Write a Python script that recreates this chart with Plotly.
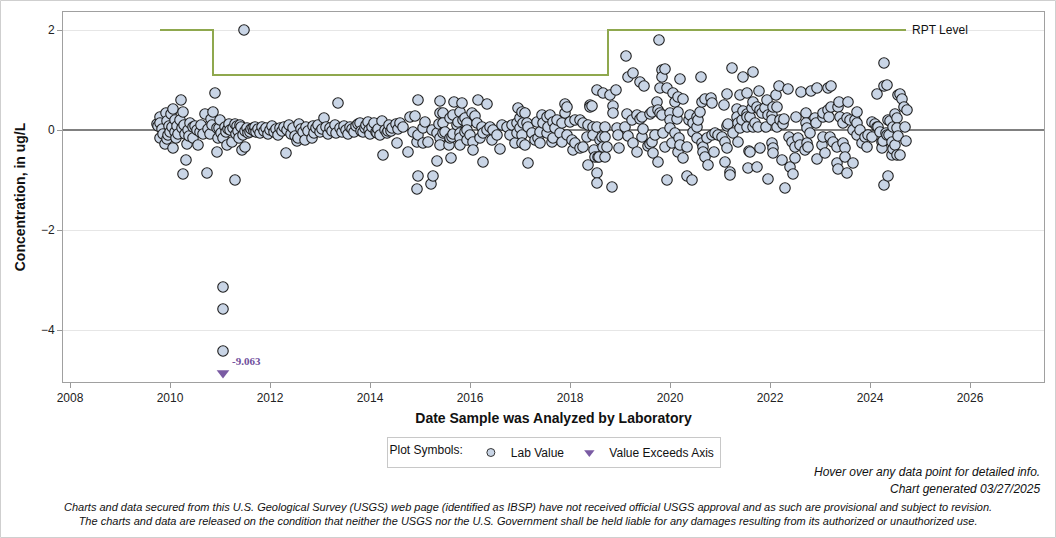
import plotly.graph_objects as go

# ---------------- data (decimal year, concentration ug/L) ----------------
lab_2010 = [
    (2009.74, 0.12), (2009.76, 0.08), (2009.80, 0.26), (2009.80, 0.14), (2009.80, -0.16), (2009.84, 0.02),
    (2009.86, -0.08), (2009.90, -0.28), (2009.92, 0.34), (2009.94, 0.18), (2009.94, -0.18), (2009.96, -0.10),
    (2009.98, 0.08), (2010.00, -0.04), (2010.02, 0.32), (2010.04, 0.06), (2010.06, 0.42), (2010.06, -0.36),
    (2010.10, 0.20), (2010.10, -0.04), (2010.12, -0.16), (2010.14, 0.08), (2010.16, -0.08), (2010.20, 0.20),
    (2010.22, 0.60), (2010.24, 0.04), (2010.26, 0.36), (2010.26, -0.88), (2010.28, 0.10), (2010.30, -0.08),
    (2010.32, -0.60), (2010.34, -0.28), (2010.36, 0.00), (2010.38, -0.12), (2010.40, 0.14), (2010.46, 0.06),
    (2010.46, -0.16), (2010.50, 0.08), (2010.54, 0.00), (2010.56, -0.30), (2010.60, -0.04), (2010.62, 0.10),
    (2010.66, -0.08), (2010.70, 0.32), (2010.74, -0.86), (2010.76, 0.02), (2010.80, -0.08), (2010.82, 0.22),
    (2010.84, 0.10), (2010.86, 0.36), (2010.90, 0.74), (2010.94, 0.04), (2010.94, -0.44), (2010.96, -0.16),
    (2010.98, 0.04), (2011.00, 0.20), (2011.02, -0.06), (2011.06, -0.16), (2011.06, -3.14), (2011.06, -3.58),
    (2011.06, -4.42), (2011.10, 0.06), (2011.12, -0.04), (2011.14, -0.30), (2011.16, 0.02), (2011.18, 0.12),
    (2011.20, 0.00), (2011.24, -0.24), (2011.26, 0.04), (2011.30, 0.12), (2011.30, -1.00), (2011.32, -0.08),
    (2011.34, 0.08), (2011.36, -0.02), (2011.38, -0.16), (2011.40, 0.10), (2011.42, 0.06), (2011.44, -0.40),
    (2011.46, -0.10), (2011.48, 2.00), (2011.50, -0.02), (2011.50, -0.34), (2011.54, 0.04), (2011.56, -0.06),
    (2011.60, -0.04), (2011.62, 0.02), (2011.66, 0.04), (2011.68, -0.02), (2011.70, 0.06), (2011.72, -0.04),
]

lab_2013 = [
    (2011.76, 0.02), (2011.80, -0.06), (2011.84, 0.06), (2011.88, -0.02), (2011.92, 0.04), (2011.96, -0.08),
    (2012.00, 0.00), (2012.04, 0.08), (2012.08, -0.04), (2012.12, 0.02), (2012.16, -0.10), (2012.20, 0.04),
    (2012.24, -0.02), (2012.28, 0.06), (2012.32, -0.46), (2012.34, 0.00), (2012.38, 0.10), (2012.42, -0.08),
    (2012.46, 0.04), (2012.50, -0.12), (2012.54, -0.22), (2012.56, -0.16), (2012.58, 0.12), (2012.62, 0.02),
    (2012.66, -0.04), (2012.70, -0.20), (2012.72, 0.06), (2012.76, -0.02), (2012.84, -0.16), (2012.86, 0.08),
    (2012.88, -0.06), (2012.92, 0.04), (2012.96, 0.10), (2013.00, -0.04), (2013.04, 0.02), (2013.08, 0.24),
    (2013.12, 0.06), (2013.16, -0.08), (2013.20, 0.04), (2013.24, -0.02), (2013.30, 0.10), (2013.32, -0.06),
    (2013.36, 0.54), (2013.40, 0.04), (2013.44, -0.04), (2013.48, 0.08), (2013.52, 0.00), (2013.56, -0.08),
    (2013.60, 0.06), (2013.64, 0.02), (2013.68, -0.04), (2013.72, 0.08), (2013.76, 0.12), (2013.80, 0.14),
    (2013.82, -0.02), (2013.86, -0.04), (2013.90, 0.04), (2013.92, 0.10), (2013.96, 0.16), (2013.98, 0.00),
    (2014.00, -0.08), (2014.04, 0.06), (2014.08, 0.14), (2014.12, -0.04), (2014.14, -0.06), (2014.16, 0.02),
    (2014.20, -0.10), (2014.24, 0.18), (2014.26, -0.50), (2014.30, 0.00), (2014.34, -0.06), (2014.36, -0.02),
    (2014.38, 0.10), (2014.42, -0.02), (2014.44, 0.04), (2014.52, 0.12), (2014.54, -0.26), (2014.56, 0.02),
    (2014.60, 0.14), (2014.66, 0.06),
]

lab_2016 = [
    (2014.76, -0.44), (2014.80, 0.26), (2014.86, -0.04), (2014.90, 0.28), (2014.94, -0.24), (2014.96, 0.60),
    (2014.96, -0.10), (2014.94, -1.18), (2014.96, -0.92), (2015.06, 0.04), (2015.06, -0.26), (2015.10, 0.16),
    (2015.16, -0.24), (2015.22, -1.08), (2015.24, 0.00), (2015.26, -0.92), (2015.34, -0.06), (2015.34, -0.62),
    (2015.38, 0.12), (2015.40, 0.58), (2015.40, 0.34), (2015.40, -0.16), (2015.40, -0.30), (2015.46, 0.34),
    (2015.46, 0.14), (2015.46, -0.06), (2015.50, -0.04), (2015.58, -0.30), (2015.60, 0.24), (2015.60, -0.16),
    (2015.62, -0.56), (2015.64, -0.14), (2015.66, 0.30), (2015.66, -0.08), (2015.68, 0.56), (2015.74, 0.10),
    (2015.76, 0.16), (2015.80, 0.36), (2015.80, -0.06), (2015.80, -0.16), (2015.80, -0.30), (2015.84, 0.54),
    (2015.86, 0.20), (2015.90, 0.24), (2015.90, -0.04), (2015.94, 0.14), (2015.94, 0.00), (2015.94, -0.20),
    (2016.00, -0.10), (2016.04, 0.34), (2016.06, -0.24), (2016.06, -0.40), (2016.10, 0.28), (2016.14, 0.14),
    (2016.16, 0.60), (2016.20, -0.16), (2016.24, 0.06), (2016.26, -0.06), (2016.26, -0.64), (2016.34, 0.52),
    (2016.34, 0.00), (2016.40, 0.06), (2016.44, -0.20), (2016.46, 0.00), (2016.54, -0.10), (2016.60, -0.38),
    (2016.64, 0.10), (2016.74, 0.06), (2016.80, -0.10), (2016.84, 0.10), (2016.90, -0.26), (2016.94, 0.14),
    (2016.94, -0.06), (2016.96, 0.44), (2017.00, 0.24), (2017.00, 0.04), (2017.04, 0.36), (2017.04, -0.10),
    (2017.04, -0.26), (2017.06, 0.14), (2017.10, 0.34), (2017.10, -0.30), (2017.14, 0.14), (2017.16, 0.06),
    (2017.16, -0.66), (2017.24, -0.06), (2017.30, -0.20), (2017.34, 0.16), (2017.36, -0.16), (2017.40, -0.04),
    (2017.40, -0.26), (2017.44, 0.30), (2017.46, 0.14), (2017.54, 0.26), (2017.54, -0.06), (2017.56, 0.06),
    (2017.60, 0.30), (2017.64, -0.24), (2017.66, 0.16), (2017.66, -0.16), (2017.70, 0.04), (2017.74, 0.20),
    (2017.80, -0.06), (2017.84, 0.14), (2017.84, -0.24), (2017.90, 0.34), (2017.90, 0.52), (2017.94, 0.46),
    (2017.94, -0.10), (2018.00, 0.16), (2018.04, -0.20), (2018.06, -0.40), (2018.10, 0.20), (2018.10, -0.26),
    (2018.20, 0.20), (2018.20, -0.36), (2018.26, 0.14), (2018.26, -0.34), (2018.34, -0.14), (2018.36, 0.10),
    (2018.36, -0.70),
]

lab_2019 = [
    (2018.40, 0.50), (2018.40, 0.46), (2018.44, 0.48), (2018.46, 0.06), (2018.46, -0.10), (2018.48, -0.40),
    (2018.50, -0.54), (2018.54, 0.80), (2018.54, 0.06), (2018.54, -0.86), (2018.54, -1.06), (2018.56, -0.54),
    (2018.58, -0.54), (2018.60, -0.20), (2018.64, -0.14), (2018.66, 0.74), (2018.66, -0.34), (2018.70, 0.06),
    (2018.70, -0.14), (2018.70, -0.54), (2018.74, -0.34), (2018.80, 0.70), (2018.84, -1.14), (2018.86, 0.48),
    (2018.86, 0.34), (2018.92, 0.80), (2018.94, 0.04), (2018.96, -0.10), (2018.98, -0.36), (2019.10, 0.06),
    (2019.12, 1.48), (2019.14, 0.32), (2019.16, 1.06), (2019.16, -0.12), (2019.24, 0.20), (2019.26, 1.14),
    (2019.26, -0.26), (2019.34, 0.30), (2019.34, -0.44), (2019.40, 0.96), (2019.40, 0.22), (2019.44, 0.26),
    (2019.44, -0.14), (2019.46, 0.02), (2019.48, 0.88), (2019.56, -0.32), (2019.60, 0.32), (2019.60, -0.28),
    (2019.64, 0.36), (2019.64, -0.24), (2019.66, -0.46), (2019.70, -0.10), (2019.74, 0.56), (2019.76, 0.40),
    (2019.76, -0.64), (2019.78, 1.80), (2019.80, 0.84), (2019.80, 0.34), (2019.84, 1.20), (2019.84, 1.06),
    (2019.84, 0.30), (2019.86, -0.06), (2019.90, 1.22), (2019.90, -0.34), (2019.94, 0.84), (2019.94, -1.00),
    (2020.00, 0.34), (2020.00, 0.20), (2020.00, 0.04), (2020.04, -0.26), (2020.06, 0.74), (2020.10, 0.56),
    (2020.10, -0.06), (2020.14, 0.22), (2020.16, 0.66), (2020.16, 0.36), (2020.16, -0.44), (2020.18, -0.16),
    (2020.20, 1.02), (2020.20, -0.30), (2020.26, 0.62), (2020.26, -0.56), (2020.34, -0.34), (2020.34, -0.92),
    (2020.38, 0.20), (2020.40, 0.30), (2020.44, -1.00), (2020.46, 0.14), (2020.46, -0.04), (2020.54, 0.26),
    (2020.54, 0.06), (2020.54, -0.16), (2020.56, 0.20), (2020.60, 0.36), (2020.62, 1.06), (2020.64, 0.56),
    (2020.64, -0.26), (2020.66, -0.34), (2020.66, -0.44), (2020.70, 0.62), (2020.70, -0.54), (2020.74, -0.16),
    (2020.76, -0.70), (2020.82, 0.64), (2020.84, 0.54), (2020.84, -0.10), (2020.88, -0.44), (2020.90, -0.06),
    (2020.96, -0.10),
]

lab_2021 = [
    (2021.04, -0.14), (2021.08, 0.50), (2021.10, -0.24), (2021.10, -0.64), (2021.14, 0.72), (2021.14, 0.08),
    (2021.14, -0.36), (2021.16, 0.12), (2021.20, -0.84), (2021.20, -0.90), (2021.24, 1.24), (2021.26, -0.06),
    (2021.34, 0.42), (2021.34, 0.26), (2021.36, 0.14), (2021.36, -0.24), (2021.40, 0.70), (2021.40, 0.04),
    (2021.44, 0.20), (2021.46, 1.06), (2021.46, 0.38), (2021.54, 0.74), (2021.54, 0.32), (2021.54, 0.26),
    (2021.54, 0.06), (2021.56, -0.76), (2021.58, -0.42), (2021.60, 0.26), (2021.60, -0.44), (2021.64, 0.44),
    (2021.66, 1.16), (2021.66, 0.56), (2021.66, 0.06), (2021.70, 0.14), (2021.74, 0.46), (2021.74, -0.74),
    (2021.76, 0.06), (2021.78, 0.78), (2021.80, 0.40), (2021.80, -0.36), (2021.84, 0.34), (2021.90, 0.44),
    (2021.92, 0.06), (2021.94, 0.60), (2021.96, 0.30), (2021.96, -0.98), (2022.04, 0.30), (2022.04, 0.20),
    (2022.04, -0.26), (2022.06, 0.46), (2022.06, -0.36), (2022.06, -0.46), (2022.12, 0.70), (2022.14, 0.46),
    (2022.14, 0.06), (2022.18, 0.88), (2022.20, 0.20), (2022.24, -0.60), (2022.26, 0.12), (2022.28, 0.22),
    (2022.30, -1.16), (2022.36, 0.82), (2022.38, -0.14), (2022.40, -0.74), (2022.44, -0.24), (2022.46, -0.88),
    (2022.50, -0.34), (2022.50, -0.56), (2022.52, 0.26), (2022.56, -0.16), (2022.60, -0.30), (2022.62, 0.76),
    (2022.70, -0.40), (2022.72, 0.34), (2022.72, 0.14), (2022.74, 0.04), (2022.74, -0.26), (2022.76, -0.34),
    (2022.80, -0.06), (2022.82, 0.78), (2022.90, 0.24), (2022.92, 0.14), (2022.94, 0.84), (2022.94, -0.58),
]

lab_2023 = [
    (2023.04, -0.30), (2023.06, 0.26), (2023.06, 0.34), (2023.06, -0.14), (2023.10, -0.46), (2023.16, 0.84),
    (2023.16, 0.40), (2023.18, 0.26), (2023.20, -0.14), (2023.22, 0.88), (2023.22, 0.46), (2023.26, -0.24),
    (2023.34, -0.34), (2023.34, -0.66), (2023.36, 0.46), (2023.36, -0.78), (2023.38, 0.56), (2023.40, 0.26),
    (2023.46, 0.14), (2023.46, -0.26), (2023.50, -0.36), (2023.50, -0.54), (2023.54, 0.24), (2023.54, -0.86),
    (2023.56, 0.56), (2023.60, 0.20), (2023.66, 0.00), (2023.66, -0.66), (2023.70, 0.20), (2023.74, 0.36),
    (2023.74, 0.14), (2023.74, -0.10), (2023.80, 0.00), (2023.84, -0.26), (2023.90, -0.14), (2023.94, -0.34),
    (2023.96, -0.10), (2024.04, 0.16), (2024.04, -0.14), (2024.10, 0.12), (2024.14, 0.72), (2024.14, 0.06),
    (2024.16, 0.06), (2024.20, -0.04), (2024.24, -0.24), (2024.24, -0.36), (2024.26, -0.22), (2024.28, 1.34),
    (2024.28, 0.88), (2024.28, -1.10), (2024.32, -0.06), (2024.34, 0.90), (2024.34, -0.10), (2024.36, 0.20),
    (2024.36, -0.92), (2024.38, -0.10), (2024.40, 0.18), (2024.44, -0.24), (2024.44, -0.50), (2024.46, 0.06),
    (2024.46, -0.38), (2024.50, 0.32), (2024.50, -0.30), (2024.54, 0.24), (2024.54, 0.04), (2024.54, -0.50),
    (2024.56, 0.70), (2024.56, -0.12), (2024.60, 0.72), (2024.60, -0.50), (2024.64, 0.62), (2024.68, 0.46),
    (2024.70, 0.06), (2024.72, -0.22), (2024.74, 0.40),
]

exceed_years = [2011.06]
exceed_values = [-9.063]

rpt_years = [2009.80, 2010.86, 2018.76, 2024.72]
rpt_values = [2.0, 1.1, 2.0, 2.0]

x_tick_vals = [2008, 2010, 2012, 2014, 2016, 2018, 2020, 2022, 2024, 2026]
y_tick_vals = [2, 0, -2, -4]
x_range = [2007.86, 2027.48]
y_range = [-5.04, 2.36]

# ---------------- build ----------------
all_pts = lab_2010 + lab_2013 + lab_2016 + lab_2019 + lab_2021 + lab_2023
lab_x = [p[0] for p in all_pts]
lab_y = [p[1] for p in all_pts]

FONT = "Arial, Liberation Sans, sans-serif"
CIRCLE_FILL = "#c9d5e6"
TRI_COLOR = "#7a5ba3"

fig = go.Figure()

fig.add_trace(go.Scatter(
    x=rpt_years, y=rpt_values, mode="lines", line=dict(color="#8fa84e", width=2, shape="hv"),
    showlegend=False, hoverinfo="skip"))

fig.add_trace(go.Scatter(
    x=lab_x, y=lab_y, mode="markers", name="Lab Value", showlegend=False,
    marker=dict(symbol="circle", size=10.5, color=CIRCLE_FILL, line=dict(color="#1e1e1e", width=1.1))))

# exceedance marker drawn at the floor of the axis
floor_y = y_range[0] + 0.18
fig.add_trace(go.Scatter(
    x=exceed_years, y=[floor_y] * len(exceed_years), mode="markers", name="Value Exceeds Axis",
    showlegend=False, customdata=exceed_values, hovertemplate="%{customdata}<extra></extra>",
    marker=dict(symbol="triangle-down", size=11, color=TRI_COLOR, line=dict(width=0))))

# legend-only entries (smaller symbols, as in the reference key)
fig.add_trace(go.Scatter(x=[None], y=[None], mode="markers", name="Lab Value",
                         marker=dict(symbol="circle", size=8, color=CIRCLE_FILL,
                                     line=dict(color="#333", width=1))))
fig.add_trace(go.Scatter(x=[None], y=[None], mode="markers", name="Value Exceeds Axis",
                         marker=dict(symbol="triangle-down", size=9, color=TRI_COLOR, line=dict(width=0))))

for xv, val in zip(exceed_years, exceed_values):
    fig.add_annotation(x=xv, y=floor_y, text=f"<b>{val:.3f}</b>", showarrow=False,
                       xanchor="left", yanchor="middle", xshift=7, yshift=12,
                       font=dict(family="Liberation Serif, Times New Roman, serif", size=11, color="#6f4f9c"))

fig.add_annotation(x=rpt_years[-1], y=rpt_values[-1], text="RPT Level", showarrow=False,
                   xanchor="left", yanchor="middle", xshift=4,
                   font=dict(family=FONT, size=12, color="#111"))

fig.update_xaxes(range=x_range, tickvals=x_tick_vals, ticks="outside", ticklen=5, tickcolor="#999",
                 showgrid=False, zeroline=False, showline=True, linecolor="#a0a0a0", mirror=True,
                 tickfont=dict(family=FONT, size=12, color="#222"),
                 title=dict(text="<b>Date Sample was Analyzed by Laboratory</b>", standoff=8,
                            font=dict(family=FONT, size=14, color="#111")))
fig.update_yaxes(range=y_range, tickvals=y_tick_vals, ticks="outside", ticklen=5, tickcolor="#999",
                 showgrid=True, gridcolor="#e6e6e6", gridwidth=1,
                 zeroline=True, zerolinecolor="#808080", zerolinewidth=2,
                 showline=True, linecolor="#a0a0a0", mirror=True,
                 tickfont=dict(family=FONT, size=12, color="#222"),
                 title=dict(text="<b>Concentration, in ug/L</b>", standoff=12,
                            font=dict(family=FONT, size=14, color="#111")))

W, H = 1056, 538
ml, mr, mt, mb = 63, 12, 12, 156
pw, ph = W - ml - mr, H - mt - mb

def px_x(p):
    return (p - ml) / pw

def px_y(p):
    return (H - mb - p) / ph

# outer frame
fig.add_shape(type="rect", xref="paper", yref="paper", x0=px_x(0.5), x1=px_x(W - 0.5),
              y0=px_y(H - 0.5), y1=px_y(0.5), line=dict(color="#cfcfcf", width=1), layer="below")

fig.add_annotation(xref="paper", yref="paper", x=px_x(1042), y=px_y(472),
                   text="<i>Hover over any data point for detailed info.</i>", showarrow=False,
                   xanchor="right", yanchor="middle", font=dict(family=FONT, size=12, color="#111"))
fig.add_annotation(xref="paper", yref="paper", x=px_x(1042), y=px_y(489),
                   text="<i>Chart generated 03/27/2025</i>", showarrow=False,
                   xanchor="right", yanchor="middle", font=dict(family=FONT, size=12, color="#111"))
fig.add_annotation(xref="paper", yref="paper", x=px_x(528), y=px_y(514),
                   text="<i>Charts and data secured from this U.S. Geological Survey (USGS) web page (identified as IBSP) have not received official USGS approval and as such are provisional and subject to revision.</i><br>"
                        "<i>The charts and data are released on the condition that neither the USGS nor the U.S. Government shall be held liable for any damages resulting from its authorized or unauthorized use.</i>",
                   showarrow=False, xanchor="center", yanchor="middle", align="center",
                   font=dict(family=FONT, size=11, color="#111"))

fig.update_layout(
    width=W, height=H, margin=dict(l=ml, r=mr, t=mt, b=mb),
    paper_bgcolor="white", plot_bgcolor="white",
    font=dict(family=FONT, size=12, color="#111"),
    legend=dict(orientation="h", x=0.5, xanchor="center", y=px_y(437), yanchor="top",
                title=dict(text="Plot Symbols:", side="left", font=dict(family=FONT, size=12)),
                bordercolor="#c8c8c8", borderwidth=1, font=dict(family=FONT, size=12),
                tracegroupgap=0, itemwidth=30),
    hovermode="closest",
)

fig.write_html("out.html")
